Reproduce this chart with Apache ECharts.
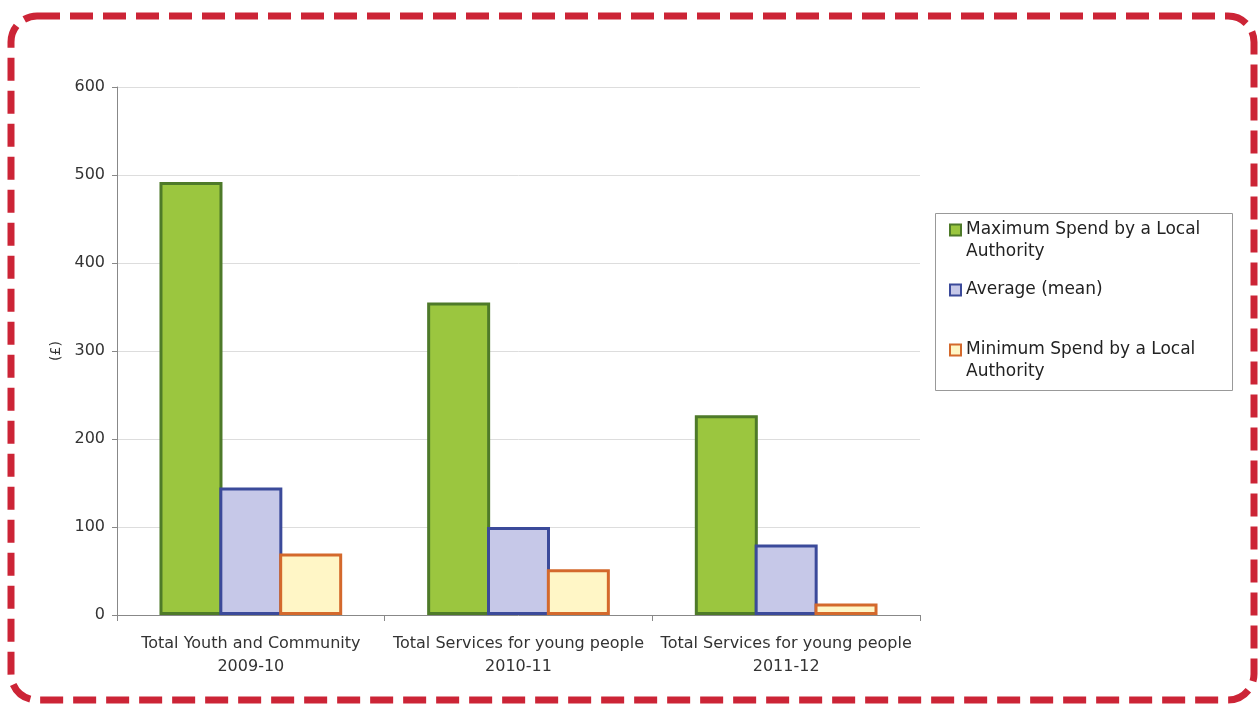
<!DOCTYPE html>
<html>
<head>
<meta charset="utf-8">
<script src="https://cdn.jsdelivr.net/npm/echarts@6/dist/echarts.min.js"></script>
<style>
  html, body { margin: 0; padding: 0; background: #fff; }
  #chart { width: 1258px; height: 704px; }
</style>
</head>
<body>
<div id="chart"></div>
<script>
// categories and values
var categories = [
  'Total Youth and Community\n2009-10',
  'Total Services for young people\n2010-11',
  'Total Services for young people\n2011-12'
]
var maxSpend = [492, 355, 227]
var meanSpend = [145, 100, 80]
var minSpend = [70, 52, 13]

var seriesNames = [
  'Maximum Spend by a Local Authority',
  'Average (mean)',
  'Minimum Spend by a Local Authority'
]
// blank first line keeps the icon level with the first text line
var legendLabels = {
  'Maximum Spend by a Local Authority': ' \nMaximum Spend by a Local\nAuthority',
  'Average (mean)': 'Average (mean)',
  'Minimum Spend by a Local Authority': ' \nMinimum Spend by a Local\nAuthority'
}

var font = 'DejaVu Sans'
var chart = echarts.init(document.getElementById('chart'))

function barSeries(name, data, fill, edge) {
  return {
    name: name,
    type: 'bar',
    data: data,
    barWidth: 63,
    barGap: '-5%',
    itemStyle: { color: fill, borderColor: edge, borderWidth: 3 }
  }
}

chart.setOption({
  animation: false,
  backgroundColor: '#fff',
  grid: { left: 117, right: 338, top: 87, bottom: 89 },
  legend: {
    orient: 'vertical',
    left: 949,
    top: 197,
    padding: 0,
    itemGap: 16,
    itemWidth: 11,
    itemHeight: 11,
    icon: 'rect',
    formatter: function (n) { return legendLabels[n] },
    textStyle: { fontFamily: font, fontSize: 17, color: '#222', lineHeight: 22 },
    data: seriesNames
  },
  graphic: [
    {
      type: 'rect',
      left: 933, top: 211,
      shape: { width: 297, height: 177 },
      style: { fill: 'none', stroke: '#999', lineWidth: 1 },
      silent: true
    },
    {
      type: 'rect',
      shape: { x: 11, y: 16, width: 1243, height: 684, r: 26 },
      style: { fill: 'none', stroke: '#cc2436', lineWidth: 7, lineDash: [23, 10] },
      silent: true
    }
  ],
  xAxis: {
    type: 'category',
    data: categories,
    axisLine: { lineStyle: { color: '#888' } },
    axisTick: { show: true, length: 6, lineStyle: { color: '#888' } },
    axisLabel: { interval: 0, fontFamily: font, fontSize: 16, color: '#333', margin: 17, lineHeight: 23 }
  },
  yAxis: {
    type: 'value',
    min: 0,
    max: 600,
    interval: 100,
    name: '(£)',
    nameLocation: 'middle',
    nameGap: 34,
    nameRotate: 90,
    nameTextStyle: { fontFamily: font, fontSize: 14, color: '#333' },
    axisLine: { show: true, lineStyle: { color: '#888' } },
    axisTick: { show: true, length: 5, lineStyle: { color: '#888' } },
    axisLabel: { fontFamily: font, fontSize: 16, color: '#333', margin: 12 },
    splitLine: { lineStyle: { color: '#ddd' } }
  },
  series: [
    barSeries(seriesNames[0], maxSpend, '#9bc63f', '#4e7a29'),
    barSeries(seriesNames[1], meanSpend, '#c6c8e8', '#3b4a9a'),
    barSeries(seriesNames[2], minSpend, '#fff6c6', '#d4692c')
  ]
})
</script>
</body>
</html>
